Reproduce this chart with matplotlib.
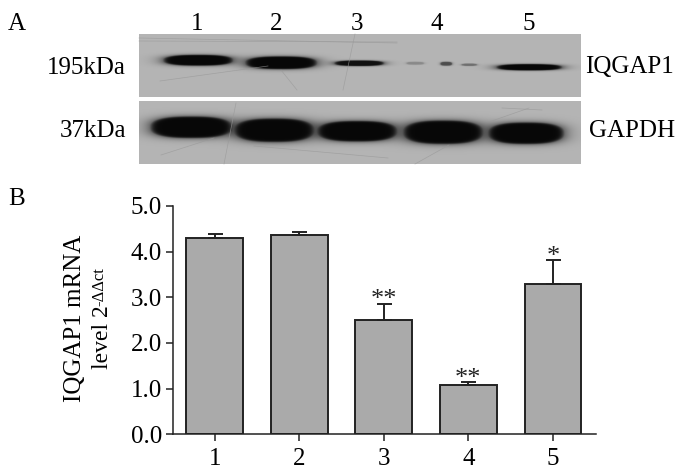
import numpy as np
import matplotlib
matplotlib.use("Agg")
import matplotlib.pyplot as plt

plt.rcParams['font.family'] = ['Liberation Serif', 'DejaVu Serif']

# Bar chart values
groups = [1, 2, 3, 4, 5]
mrna = [4.30, 4.36, 2.50, 1.08, 3.29]
mrna_err = [0.09, 0.08, 0.36, 0.065, 0.52]
stars = ["", "", "**", "**", "*"]

# Blot bands, in image pixels: centre x, centre y, half width, half height, darkness
iqgap_x = [198, 281, 359, 415, 446, 469, 529]
iqgap_y = [60, 62.5, 63, 63, 63.5, 64.5, 67]
iqgap_hw = [35, 36, 25, 9, 6, 8, 33]
iqgap_hh = [5.5, 6.5, 2.8, 1.5, 2, 1.2, 3.2]
iqgap_dark = [1.0, 1.0, 0.95, 0.25, 0.6, 0.4, 1.0]

gapdh_x = [191, 274, 357, 443, 526]
gapdh_y = [127, 130, 131, 132, 133]
gapdh_hw = [41, 40, 40, 40, 38]
gapdh_hh = [11, 12, 10.5, 12, 11]
gapdh_dark = [1.0, 1.0, 1.0, 1.0, 1.0]

lane_labels = ["1", "2", "3", "4", "5"]
lane_x = [197, 276, 357, 437, 529]

# faint scratches on the membrane
scratches = [
    ([139, 397], [38, 43]), ([139, 397], [41, 42]), ([160, 268], [81, 66]),
    ([355, 343], [34, 90]), ([236, 224], [103, 164]), ([489, 529], [122, 108]),
    ([161, 214], [155, 138]), ([254, 388], [146, 158]), ([415, 449], [164, 145]),
    ([281, 297], [70, 90]), ([502, 542], [108, 110]),
]


def blot_panel(x0, x1, y0, y1, xs, ys, hws, hhs, darks):
    xx, yy = np.meshgrid(np.arange(x0, x1, 0.5), np.arange(y0, y1, 0.5))
    shade = np.full(xx.shape, 0.71)
    for cx, cy, hw, hh, dark in zip(xs, ys, hws, hhs, darks):
        d = ((np.abs(xx - cx) / hw) ** 2.6 + (np.abs(yy - cy) / hh) ** 2.6) ** (1 / 2.6)
        core = 1 / (1 + np.exp((d - 1) / 0.05))
        halo = 0.45 * np.exp(-np.maximum(d - 1, 0) * 5)
        band = np.maximum(core, halo)
        shade = shade * (1 - dark * band) + 0.03 * dark * band
    return shade


fig = plt.figure(figsize=(7, 4.74), dpi=100)

# Panel A drawn in image pixel coordinates
bg = fig.add_axes([0, 0, 1, 1], zorder=0)
bg.imshow(blot_panel(139, 581, 34, 97, iqgap_x, iqgap_y, iqgap_hw, iqgap_hh, iqgap_dark),
          extent=(139, 581, 97, 34), cmap="gray", vmin=0, vmax=1, aspect="auto")
bg.imshow(blot_panel(139, 581, 101, 164, gapdh_x, gapdh_y, gapdh_hw, gapdh_hh, gapdh_dark),
          extent=(139, 581, 164, 101), cmap="gray", vmin=0, vmax=1, aspect="auto")
bg.set_xlim(0, 700)
bg.set_ylim(474, 0)
bg.axis("off")
for sx, sy in scratches:
    bg.plot(sx, sy, color="#999999", lw=0.5, alpha=0.7)

bg.text(8, 24, "A", fontsize=18, va="center", ha="left")
bg.text(8, 199, "B", fontsize=18, va="center", ha="left")
for lab, x in zip(lane_labels, lane_x):
    bg.text(x, 24, lab, fontsize=18, ha="center", va="center")
bg.text(126, 68, "195kDa", fontsize=18, ha="right", va="center")
bg.text(126, 131, "37kDa", fontsize=18, ha="right", va="center")
bg.text(585, 67, "IQGAP1", fontsize=18, ha="left", va="center")
bg.text(589, 131, "GAPDH", fontsize=18, ha="left", va="center")

# y label of panel B
bg.text(75, 318, "IQGAP1 mRNA", fontsize=18, rotation=90, ha="center", va="center")
bg.text(103, 337, "level 2", fontsize=17, rotation=90, ha="center", va="center")
bg.text(99, 287, "-ΔΔct", fontsize=12, rotation=90, ha="center", va="center")

# Panel B bars
ax = fig.add_axes([173 / 700, (474 - 434.3) / 474, (596 - 173) / 700, (434.3 - 206) / 474],
                  zorder=1)
ax.patch.set_alpha(0)
ax.bar(groups, mrna, width=0.67, color="#aaaaaa", edgecolor="#222222", linewidth=1.4)
ax.errorbar(groups, mrna, yerr=[np.zeros(5), mrna_err], fmt="none", ecolor="#222222",
            elinewidth=1.4, capsize=5.4, capthick=1.4)
for g, v, e, s in zip(groups, mrna, mrna_err, stars):
    ax.annotate(s, (g, v + e), xytext=(0, -5.5), textcoords="offset points",
                ha="center", va="bottom", fontsize=19, color="#222222")

ax.set_xlim(0.507, 5.51)
ax.set_ylim(0, 5)
ax.set_xticks(groups)
ax.set_yticks([0, 1, 2, 3, 4, 5])
ax.set_yticklabels(["0.0", "1.0", "2.0", "3.0", "4.0", "5.0"])
ax.tick_params(axis="both", direction="out", length=5, width=1.1, labelsize=18, color="#222222")
ax.tick_params(axis="y", pad=3)
ax.tick_params(axis="x", pad=5)
for side in ["top", "right"]:
    ax.spines[side].set_visible(False)
for side in ["left", "bottom"]:
    ax.spines[side].set_linewidth(1.1)
    ax.spines[side].set_color("#222222")

fig.savefig("out.png", dpi=100)
